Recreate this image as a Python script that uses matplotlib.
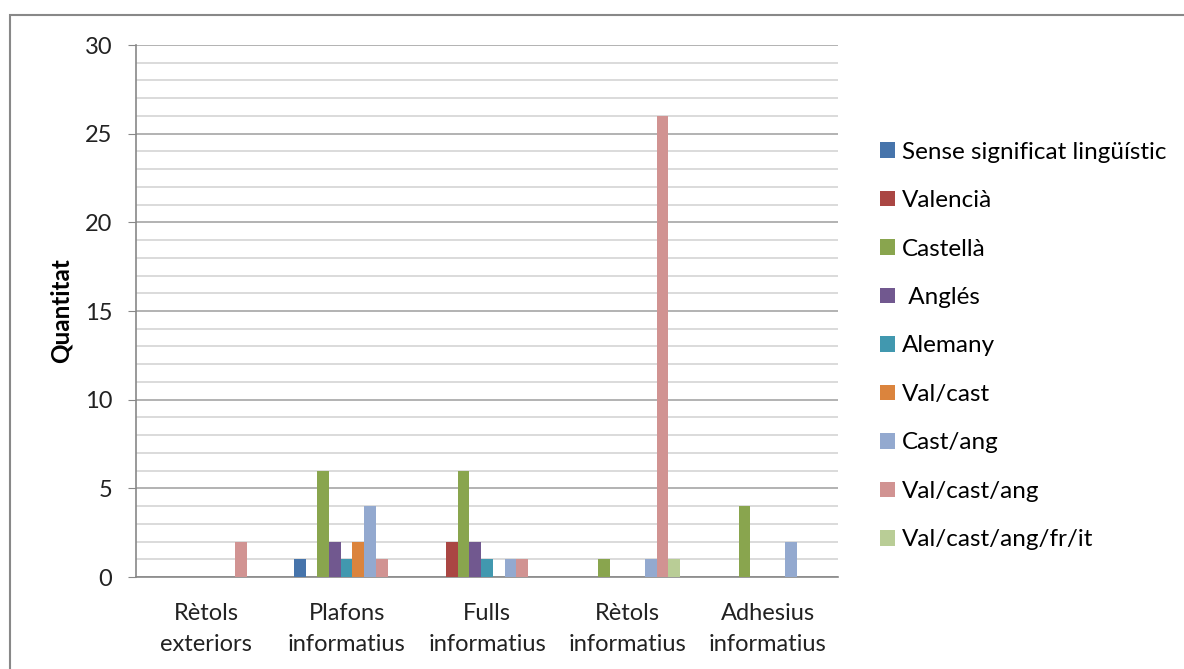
import numpy as np
import matplotlib
matplotlib.use("Agg")
import matplotlib.pyplot as plt
from matplotlib.patches import Rectangle

plt.rcParams['font.family'] = ['Lato', 'DejaVu Sans']

categories = ["Rètols\nexteriors", "Plafons\ninformatius", "Fulls\ninformatius",
              "Rètols\ninformatius", "Adhesius\ninformatius"]

series_names = ["Sense significat lingüístic", "Valencià", "Castellà", " Anglés",
                "Alemany", "Val/cast", "Cast/ang", "Val/cast/ang", "Val/cast/ang/fr/it"]

sense = [0, 1, 0, 0, 0]
valencia = [0, 0, 2, 0, 0]
castella = [0, 6, 6, 1, 4]
angles = [0, 2, 2, 0, 0]
alemany = [0, 1, 1, 0, 0]
val_cast = [0, 2, 0, 0, 0]
cast_ang = [0, 4, 1, 1, 2]
val_cast_ang = [2, 1, 1, 26, 0]
val_cast_ang_fr_it = [0, 0, 0, 1, 0]

series_values = [sense, valencia, castella, angles, alemany,
                 val_cast, cast_ang, val_cast_ang, val_cast_ang_fr_it]

colors = ["#4674AB", "#AA4643", "#89A54E", "#71588F", "#4198AF",
          "#DB843D", "#93A9CF", "#D19392", "#B9CD96"]

fig = plt.figure(figsize=(11.84, 6.69), dpi=100)
ax = fig.add_axes([136 / 1184, 1 - 577 / 669, (838 - 136) / 1184, (577 - 45) / 669])

x = np.arange(len(categories))
n = len(series_values)
w = 1 / 12
for i, (name, vals, col) in enumerate(zip(series_names, series_values, colors)):
    ax.bar(x + (i - (n - 1) / 2) * w, vals, width=w, color=col, label=name,
           linewidth=0, zorder=3)

ax.set_xlim(-0.5, len(categories) - 0.5)
ax.set_ylim(0, 30)
ax.set_yticks(np.arange(0, 31, 5))
ax.set_yticks(np.arange(0, 31, 1), minor=True)
ax.grid(which='minor', axis='y', color='#D4D4D4', linewidth=1.2, zorder=0)
ax.grid(which='major', axis='y', color='#A6A6A6', linewidth=1.2, zorder=1)

ax.set_xticks(x)
ax.set_xticklabels(categories, fontsize=17, linespacing=1.55, color='#222222')
ax.tick_params(axis='x', length=0, pad=19)
ax.tick_params(axis='y', which='major', length=6, color='#888888', labelsize=17,
               labelcolor='#222222', pad=11)
ax.tick_params(axis='y', which='minor', length=0)

for side in ['top', 'right']:
    ax.spines[side].set_visible(False)
for side in ['left', 'bottom']:
    ax.spines[side].set_color('#888888')
    ax.spines[side].set_linewidth(1.2)

ax.set_ylabel("Quantitat", fontsize=17.5, fontweight='bold', labelpad=9)

ax.legend(loc='center left', bbox_to_anchor=(880 / 1184, 1 - 346 / 669),
          bbox_transform=fig.transFigure, frameon=False, fontsize=17.5,
          handlelength=0.6, handleheight=0.6, handletextpad=0.3,
          labelspacing=1.13, borderaxespad=0, borderpad=0)

# chart frame
fig.patches.append(Rectangle((10 / 1184, -0.1), 1.2, 1 - 15 / 669 + 0.1,
                             transform=fig.transFigure, fill=False,
                             edgecolor='#888888', linewidth=1.5))

fig.savefig("out.png", dpi=100)
